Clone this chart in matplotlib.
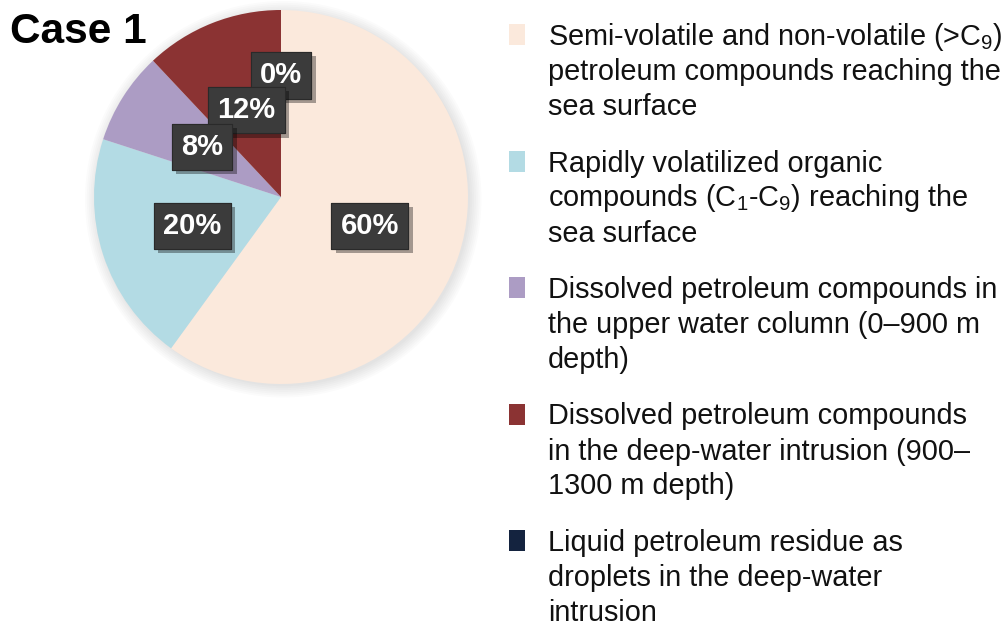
import matplotlib.pyplot as plt
import matplotlib.patheffects as pe
from matplotlib.patches import Circle
import numpy as np

plt.rcParams['font.family'] = ['Liberation Sans', 'DejaVu Sans']
plt.rcParams['mathtext.fontset'] = 'custom'
plt.rcParams['mathtext.rm'] = 'Liberation Sans'
plt.rcParams['mathtext.it'] = 'Liberation Sans'
plt.rcParams['mathtext.bf'] = 'Liberation Sans:bold'

# fate of released petroleum, percent of total
shares = [60, 20, 8, 12, 0]
colors = ['#fbe9dc', '#b3dbe4', '#ac9cc4', '#8b3333', '#14233f']
legend_lines = [
    ['Semi-volatile and non-volatile (>C$_9$)',
     'petroleum compounds reaching the',
     'sea surface'],
    ['Rapidly volatilized organic',
     'compounds (C$_1$-C$_9$) reaching the',
     'sea surface'],
    ['Dissolved petroleum compounds in',
     'the upper water column (0\u2013900 m',
     'depth)'],
    ['Dissolved petroleum compounds',
     'in the deep-water intrusion (900\u2013',
     '1300 m depth)'],
    ['Liquid petroleum residue as',
     'droplets in the deep-water',
     'intrusion'],
]
title = 'Case 1'

W, H = 1006, 625
fig = plt.figure(figsize=(W / 100, H / 100), dpi=100)
fig.patch.set_facecolor('white')

# pie axes placed in pixel terms
cx, cy, R = 281, 197, 187
ax = fig.add_axes([(cx - R) / W, (H - cy - R) / H, 2 * R / W, 2 * R / H])

# soft halo under the pie
for r in np.linspace(1.06, 1.0, 7):
    ax.add_patch(Circle((0.012, -0.012), r, color='#808080', alpha=0.03,
                        lw=0, zorder=0, clip_on=False))

wedges, texts, autotexts = ax.pie(
    shares, colors=colors, startangle=90, counterclock=False,
    autopct='%.0f%%', pctdistance=0.5, radius=1.0,
    wedgeprops=dict(linewidth=0),
    textprops=dict(color='white', fontsize=21, fontweight='bold'))
ax.set_xlim(-1, 1)
ax.set_ylim(-1, 1)
ax.axis('off')

zorders = [5, 5, 8, 7, 6]
for w, t, z in zip(wedges, autotexts, zorders):
    if w.theta2 - w.theta1 < 1e-6:
        # empty slice: push its label outward so it clears its neighbours
        ang = np.deg2rad(w.theta1)
        t.set_position((0.65 * np.cos(ang), 0.65 * np.sin(ang)))
    t.set_zorder(z)
    t.set_bbox(dict(boxstyle='square,pad=0.32', facecolor='#3b3b3b',
                    edgecolor='#2a2a2a', linewidth=0.8))
    t.get_bbox_patch().set_path_effects(
        [pe.withSimplePatchShadow(offset=(3, -3), shadow_rgbFace='black',
                                  alpha=0.35), pe.Normal()])

fig.text(10 / W, 1 - 43 / H, title, fontsize=30.5, fontweight='bold',
         va='baseline', ha='left', color='black', zorder=10)

# legend: swatch plus three text lines per entry
first_baseline = 45
entry_step = 126.5
line_step = 35
for i, (lines, c) in enumerate(zip(legend_lines, colors)):
    base = first_baseline + i * entry_step
    fig.patches.append(plt.Rectangle(
        (509 / W, 1 - base / H), 16 / W, 21 / H, transform=fig.transFigure,
        facecolor=c, edgecolor='none', figure=fig))
    for j, line in enumerate(lines):
        fig.text(548 / W, 1 - (base + j * line_step) / H, line,
                 fontsize=20.8, va='baseline', ha='left', color='#111111')

fig.savefig('out.png', dpi=100)
